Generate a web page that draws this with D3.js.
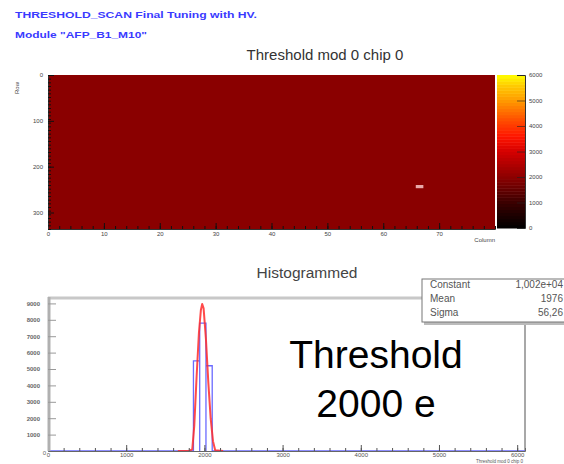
<!DOCTYPE html>
<html>
<head>
<meta charset="utf-8">
<script src="https://cdn.jsdelivr.net/npm/d3@7"></script>
<style>
  body { margin: 0; background: #fff; }
  svg { display: block; font-family: "Liberation Sans", Arial, sans-serif; }
</style>
</head>
<body>
<div id="chart"></div>
<script>
'use strict';

// ---- данные ----
const headerLines = ['THRESHOLD_SCAN Final Tuning with HV.', 'Module "AFP_B1_M10"'];

// карта порогов: 80 колонок x 336 строк, почти однородна
const mapColumns = 80;
const mapRows = 336;
const mapMeanValue = 1976;
const deadPixels = [[66, 240]];            // [колонка, строка] пустая ячейка (белая)
const colTicks = [0, 10, 20, 30, 40, 50, 60, 70];
const rowTicks = [0, 100, 200, 300];

// палитра шкалы Z
const paletteValues = [0, 1000, 2000, 3000, 3600, 4200, 5000, 5600, 6000];
const paletteColors = ['#000000', '#3a0000', '#8c0000', '#d40000', '#ff1500', '#ff4a00', '#ff9a00', '#ffcc00', '#ffff00'];
const zTicks = [0, 1000, 2000, 3000, 4000, 5000, 6000];

// гистограмма порогов (ширина бина 80 e)
const binWidth = 80;
const binLow = [1860, 1940, 2020];
const binCounts = [5500, 7800, 5200];
const histXTicks = [0, 1000, 2000, 3000, 4000, 5000, 6000];
const histYTicks = [1000, 2000, 3000, 4000, 5000, 6000, 7000, 8000, 9000];

// кривая фита (прочитанные точки)
const fitX = [1660, 1800, 1845, 1870, 1900, 1930, 1955, 1972, 1990, 2020, 2050, 2080, 2110, 2138, 2240];
const fitY = [0, 0, 100, 1500, 4500, 7200, 8600, 8960, 8700, 6800, 4200, 2000, 600, 50, 0];

const statNames = ['Constant', 'Mean', 'Sigma'];
const statValues = ['1,002e+04', '1976', '56,26'];

// ---- отрисовка ----
const W = 564, H = 464;
const fmt = d3.format('d');
const svg = d3.select('#chart').append('svg').attr('width', W).attr('height', H);

// заголовок синим
svg.selectAll('text.hdr').data(headerLines).enter().append('text')
    .attr('x', 15)
    .attr('y', (d, i) => 18 + i * 20)
    .attr('font-size', 9.5)
    .attr('font-weight', 'bold')
    .attr('fill', '#3a3aff')
    .attr('textLength', (d, i) => i === 0 ? 242 : 132)
    .attr('lengthAdjust', 'spacingAndGlyphs')
    .text(d => d);

// ===== карта =====
const colX = d3.scaleLinear().domain([0, mapColumns]).range([48, 495]);
const rowY = d3.scaleLinear().domain([0, mapRows]).range([75, 229]);
const zColor = d3.scaleLinear().domain(paletteValues).range(paletteColors);

svg.append('text')
    .attr('x', 325).attr('y', 60)
    .attr('text-anchor', 'middle')
    .attr('font-size', 15)
    .attr('fill', '#333')
    .text('Threshold mod 0 chip 0');

svg.append('rect')
    .attr('x', colX(0)).attr('y', rowY(0))
    .attr('width', colX(mapColumns) - colX(0))
    .attr('height', rowY(mapRows) - rowY(0))
    .attr('fill', zColor(mapMeanValue));

svg.selectAll('rect.dead').data(deadPixels).enter().append('rect')
    .attr('x', d => colX(d[0]) - 1)
    .attr('y', d => rowY(d[1]))
    .attr('width', colX(1) - colX(0) + 2)
    .attr('height', rowY(7) - rowY(0))
    .attr('fill', '#e8a8a8');

// оси карты: тики внутрь
const mapAxisB = d3.axisBottom(colX).tickValues(d3.range(0, mapColumns + 1, 2)).tickSize(-3).tickFormat('');
svg.append('g').attr('transform', `translate(0,${rowY(mapRows)})`).call(mapAxisB)
    .call(g => g.select('.domain').attr('stroke', '#333'))
    .call(g => g.selectAll('line').attr('stroke', '#111'));
svg.append('g').attr('transform', `translate(0,${rowY(mapRows)})`)
    .call(d3.axisBottom(colX).tickValues(colTicks).tickSize(-6).tickPadding(3).tickFormat(fmt))
    .call(g => g.select('.domain').remove())
    .call(g => g.selectAll('line').attr('stroke', '#111'))
    .call(g => g.selectAll('text').attr('font-size', 6).attr('fill', '#444'));

svg.append('g').attr('transform', `translate(${colX(0)},0)`)
    .call(d3.axisLeft(rowY).tickValues(d3.range(0, mapRows + 1, 8)).tickSize(-3).tickFormat(''))
    .call(g => g.select('.domain').attr('stroke', '#333'))
    .call(g => g.selectAll('line').attr('stroke', '#111'));
svg.append('g').attr('transform', `translate(${colX(0)},0)`)
    .call(d3.axisLeft(rowY).tickValues(rowTicks).tickSize(-6).tickPadding(5).tickFormat(fmt))
    .call(g => g.select('.domain').remove())
    .call(g => g.selectAll('line').attr('stroke', '#111'))
    .call(g => g.selectAll('text').attr('font-size', 6).attr('fill', '#444'));

svg.append('text').attr('transform', 'translate(19,82) rotate(-90)')
    .attr('text-anchor', 'end').attr('font-size', 6).attr('fill', '#444').text('Row');
svg.append('text').attr('x', 495).attr('y', 242)
    .attr('text-anchor', 'end').attr('font-size', 6).attr('fill', '#444').text('Column');

// цветовая шкала
const zY = d3.scaleLinear().domain([0, 6000]).range([228, 75]);
const zLevels = d3.range(0, 6000, 120);
svg.selectAll('rect.pal').data(zLevels).enter().append('rect')
    .attr('x', 497).attr('width', 28)
    .attr('y', d => zY(d + 120))
    .attr('height', d => zY(d) - zY(d + 120) + 0.5)
    .attr('fill', d => zColor(d + 60));
svg.append('g').attr('transform', 'translate(525,0)')
    .call(d3.axisRight(zY).tickValues(zTicks).tickSize(-8).tickPadding(4).tickFormat(fmt))
    .call(g => g.select('.domain').attr('stroke', '#333'))
    .call(g => g.selectAll('line').attr('stroke', '#222').attr('stroke-opacity', 0.6))
    .call(g => g.selectAll('text').attr('font-size', 6).attr('fill', '#444'));

// ===== гистограмма =====
const hX = d3.scaleLinear().domain([0, 6100]).range([48, 525]);
const hY = d3.scaleLinear().domain([0, 9330]).range([451, 298]);

svg.append('text')
    .attr('x', 307).attr('y', 278)
    .attr('text-anchor', 'middle')
    .attr('font-size', 15.5)
    .attr('fill', '#444')
    .text('Histogrammed');

// рамка
svg.append('line').attr('x1', 48).attr('x2', 422).attr('y1', 298).attr('y2', 298)
    .attr('stroke', '#c8c8c8').attr('stroke-width', 3);
svg.append('line').attr('x1', 525).attr('x2', 525).attr('y1', 323).attr('y2', 451)
    .attr('stroke', '#a8a8a8').attr('stroke-width', 2);

// гистограмма ступеньками
const stepPts = [[0, 0]];
binLow.forEach((lo, i) => {
    stepPts.push([lo, 0], [lo, binCounts[i]], [lo + binWidth, binCounts[i]], [lo + binWidth, 0]);
});
stepPts.push([6100, 0]);
const line = d3.line().x(d => hX(d[0])).y(d => hY(d[1]));
svg.append('path').attr('d', line(stepPts))
    .attr('fill', 'none').attr('stroke', '#6a6aff').attr('stroke-width', 1.3);

// фит
svg.append('path').attr('d', line(fitX.map((x, i) => [x, fitY[i]])))
    .attr('fill', 'none').attr('stroke', '#ff2a2a').attr('stroke-width', 2).attr('stroke-opacity', 0.85)
    .attr('stroke-linejoin', 'round');

// оси
svg.append('g').attr('transform', 'translate(0,451)')
    .call(d3.axisBottom(hX).tickValues(d3.range(0, 6001, 200)).tickSize(-3).tickFormat(''))
    .call(g => g.select('.domain').attr('stroke', '#666'))
    .call(g => g.selectAll('line').attr('stroke', '#555'));
svg.append('g').attr('transform', 'translate(0,451)')
    .call(d3.axisBottom(hX).tickValues(histXTicks).tickSize(-6).tickPadding(2).tickFormat(fmt))
    .call(g => g.select('.domain').remove())
    .call(g => g.selectAll('line').attr('stroke', '#555'))
    .call(g => g.selectAll('text').attr('font-size', 6).attr('fill', '#555'));
svg.append('text').attr('x', 523).attr('y', 463)
    .attr('text-anchor', 'end').attr('font-size', 4.5).attr('fill', '#555')
    .text('Threshold mod 0 chip 0');

svg.append('line').attr('x1', 49).attr('x2', 49).attr('y1', 297).attr('y2', 451)
    .attr('stroke', '#b0b0b0').attr('stroke-width', 3);
svg.append('g').attr('transform', 'translate(48,0)')
    .call(d3.axisLeft(hY).tickValues(histYTicks).tickSize(-8).tickPadding(8).tickFormat(fmt))
    .call(g => g.select('.domain').remove())
    .call(g => g.selectAll('line').attr('stroke', '#999'))
    .call(g => g.selectAll('text').attr('font-size', 6).attr('font-weight', 'bold').attr('fill', '#666'));
svg.append('text').attr('x', 46).attr('y', 455)
    .attr('text-anchor', 'end').attr('font-size', 6).attr('fill', '#666').text('0');

// окно статистики
const stats = svg.append('g');
stats.append('rect').attr('x', 424).attr('y', 281).attr('width', 145).attr('height', 44)
    .attr('fill', '#bbb');
stats.append('rect').attr('x', 422).attr('y', 279).attr('width', 145).attr('height', 43)
    .attr('fill', '#fff').attr('stroke', '#777').attr('stroke-width', 1);
statNames.forEach((n, i) => {
    stats.append('text').attr('x', 430).attr('y', 288 + i * 14)
        .attr('font-size', 10).attr('fill', '#555').text(n);
    stats.append('text').attr('x', 563).attr('y', 288 + i * 14)
        .attr('text-anchor', 'end').attr('font-size', 10).attr('fill', '#555').text(statValues[i]);
});

// крупная надпись
svg.selectAll('text.big').data(['Threshold', '2000 e']).enter().append('text')
    .attr('x', 376)
    .attr('y', (d, i) => 368 + i * 49)
    .attr('text-anchor', 'middle')
    .attr('font-size', 39)
    .attr('fill', '#000')
    .text(d => d);
</script>
</body>
</html>
